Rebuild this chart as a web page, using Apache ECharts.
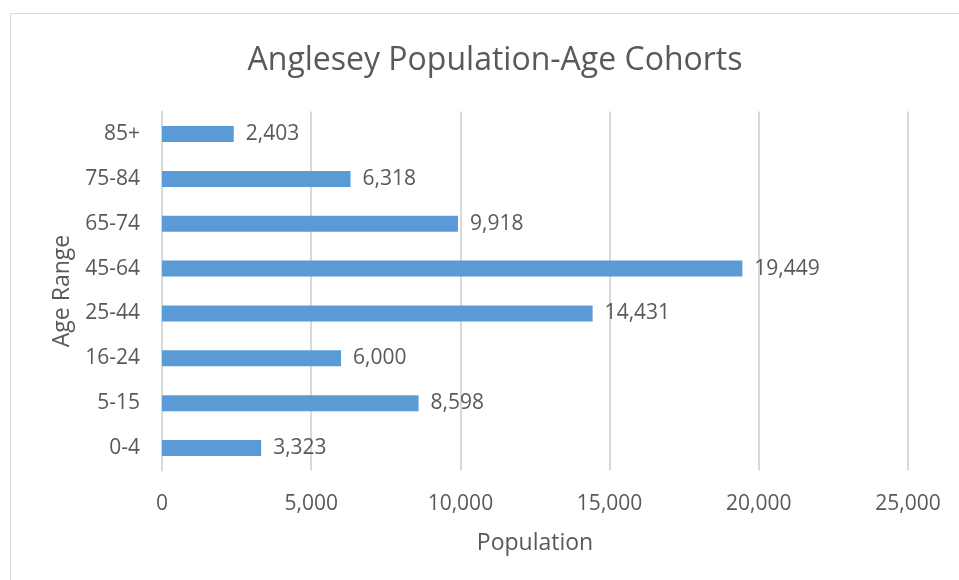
<!DOCTYPE html>
<html><head><meta charset="utf-8">
<script src="https://cdn.jsdelivr.net/npm/echarts@6/dist/echarts.min.js"></script>
<style>
html,body{margin:0;padding:0;background:#fff;overflow:hidden;}
#frame{position:absolute;left:10px;top:13px;width:1000px;height:1000px;border:1px solid #d9d9d9;box-sizing:border-box;}
#c{position:absolute;left:0;top:0;width:959px;height:580px;}
</style></head><body>
<div id="frame"></div>
<div id="c"></div>
<script>
const categories = ['0-4','5-15','16-24','25-44','45-64','65-74','75-84','85+'];
const population = [3323, 8598, 6000, 14431, 19449, 9918, 6318, 2403];
const titleText = 'Anglesey Population-Age Cohorts';
const xName = 'Population';
const yName = 'Age Range';

const FONT = 'Open Sans';
const TXT = '#595959';
const chart = echarts.init(document.getElementById('c'), null, {renderer:'canvas'});
const fmt = v => Number(v).toLocaleString('en-US');
chart.setOption({
  animation:false,
  backgroundColor:'transparent',
  title:{text:titleText,left:490,top:40,textAlign:'center',
    textStyle:{fontFamily:FONT,fontSize:32,fontWeight:'normal',color:TXT}},
  grid:{left:162,right:51,top:111.6,bottom:109.6,containLabel:false},
  xAxis:{type:'value',min:0,max:25000,interval:5000,
    name:xName,nameLocation:'middle',nameGap:62,
    nameTextStyle:{fontFamily:FONT,fontSize:23,color:TXT},
    axisLine:{show:false},axisTick:{show:false},
    axisLabel:{fontFamily:FONT,fontSize:21,color:TXT,margin:23,formatter:fmt},
    splitLine:{show:true,lineStyle:{color:'#d9d9d9',width:2}}},
  yAxis:{type:'category',data:categories,
    name:yName,nameLocation:'middle',nameGap:88,nameRotate:90,
    nameTextStyle:{fontFamily:FONT,fontSize:23,color:TXT},
    axisLine:{show:true,lineStyle:{color:'#d9d9d9',width:2}},axisTick:{show:false},
    axisLabel:{fontFamily:FONT,fontSize:21,color:TXT,margin:22}},
  series:[{type:'bar',data:population,barWidth:16,
    itemStyle:{color:'#5b9bd5'},
    label:{show:true,position:'right',distance:12,fontFamily:FONT,fontSize:21,color:TXT,
      formatter:p=>fmt(p.value)}}]
});
</script>
</body></html>
